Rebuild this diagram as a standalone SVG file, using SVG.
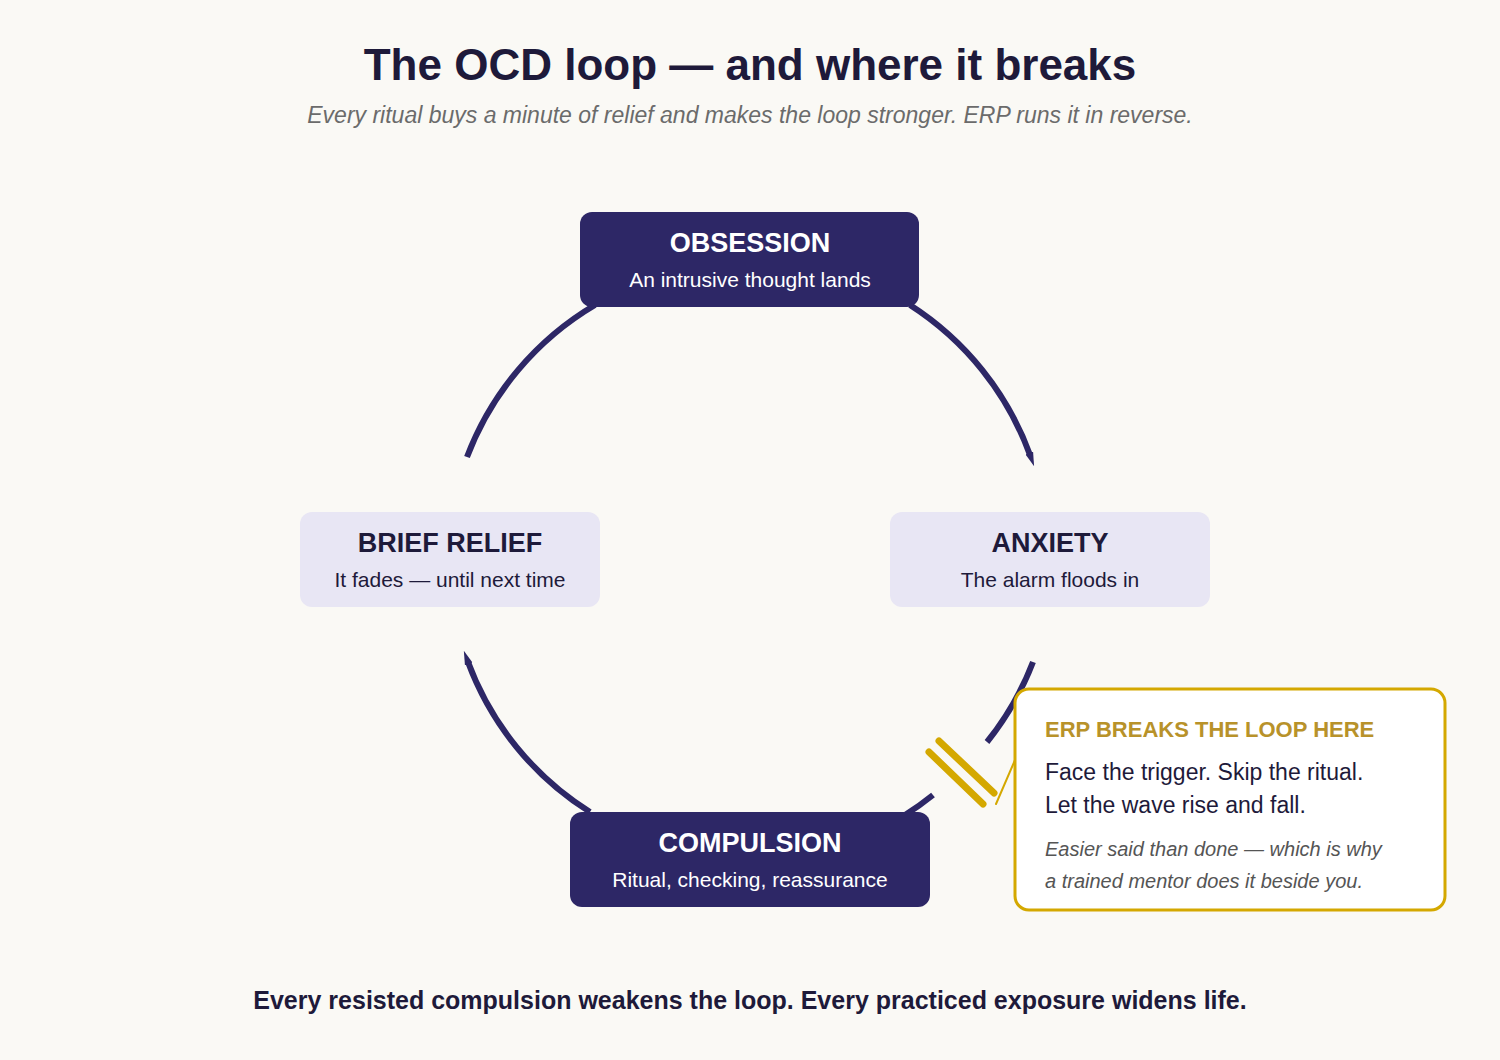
<svg xmlns="http://www.w3.org/2000/svg" width="1500" height="1060" viewBox="0 0 1500 1060">
<style>
text{font-family:"Liberation Sans",Arial,sans-serif}
.dark{fill:#2d2766}
.light{fill:#e8e6f4}
.t{font-size:27px;font-weight:bold;text-anchor:middle}
.s{font-size:21px;text-anchor:middle}
.arc{fill:none;stroke:#2d2766;stroke-width:6}
</style>
<defs>
<marker id="ah" markerUnits="userSpaceOnUse" markerWidth="14" markerHeight="10" refX="2" refY="5" orient="auto">
<path d="M0,1 L14,5 L0,9 Z" fill="#2d2766"/>
</marker>
</defs>
<rect width="1500" height="1060" fill="#faf9f5"/>
<text x="750" y="80" font-size="44" font-weight="bold" text-anchor="middle" fill="#1e1a3a">The OCD loop — and where it breaks</text>
<text x="750" y="123" font-size="23" font-style="italic" text-anchor="middle" fill="#6b6b6b">Every ritual buys a minute of relief and makes the loop stronger. ERP runs it in reverse.</text>
<g id="connectors">
<path class="arc" d="M910,305 A300,300 0 0 1 1030,455" marker-end="url(#ah)"/>
<path class="arc" d="M1033,662 A300,300 0 0 1 987,742"/>
<path class="arc" d="M933,795 A300,300 0 0 1 905,815"/>
<path class="arc" d="M590,812 A300,300 0 0 1 468,662" marker-end="url(#ah)"/>
<path class="arc" d="M467,457 A300,300 0 0 1 595,305"/>
<g stroke="#d4a800" stroke-linecap="round">
<line x1="929" y1="752" x2="983" y2="804" stroke-width="7"/>
<line x1="939" y1="741" x2="994" y2="793" stroke-width="7"/>
<line x1="996" y1="804" x2="1015" y2="760" stroke-width="2"/>
</g>
</g>
<g id="obsession">
<rect class="dark" x="580" y="212" width="339" height="95" rx="12"/>
<text class="t" x="750" y="252" fill="#fff">OBSESSION</text>
<text class="s" x="750" y="287" fill="#fff">An intrusive thought lands</text>
</g>
<g id="anxiety">
<rect class="light" x="890" y="512" width="320" height="95" rx="12"/>
<text class="t" x="1050" y="552" fill="#1e1a3a">ANXIETY</text>
<text class="s" x="1050" y="587" fill="#1e1a3a">The alarm floods in</text>
</g>
<g id="relief">
<rect class="light" x="300" y="512" width="300" height="95" rx="12"/>
<text class="t" x="450" y="552" fill="#1e1a3a">BRIEF RELIEF</text>
<text class="s" x="450" y="587" fill="#1e1a3a">It fades — until next time</text>
</g>
<g id="compulsion">
<rect class="dark" x="570" y="812" width="360" height="95" rx="12"/>
<text class="t" x="750" y="852" fill="#fff">COMPULSION</text>
<text class="s" x="750" y="887" fill="#fff">Ritual, checking, reassurance</text>
</g>
<g id="callout">
<rect x="1015" y="689" width="430" height="221" rx="14" fill="#fff" stroke="#d4a800" stroke-width="3"/>
<text x="1045" y="737" font-size="22" font-weight="bold" fill="#b8922a">ERP BREAKS THE LOOP HERE</text>
<text x="1045" y="780" font-size="23" fill="#1e1a3a">Face the trigger. Skip the ritual.</text>
<text x="1045" y="813" font-size="23" fill="#1e1a3a">Let the wave rise and fall.</text>
<text x="1045" y="856" font-size="20" font-style="italic" fill="#555">Easier said than done — which is why</text>
<text x="1045" y="888" font-size="20" font-style="italic" fill="#555">a trained mentor does it beside you.</text>
</g>
<text x="750" y="1009" font-size="25" font-weight="bold" text-anchor="middle" fill="#1e1a3a">Every resisted compulsion weakens the loop. Every practiced exposure widens life.</text>
</svg>
